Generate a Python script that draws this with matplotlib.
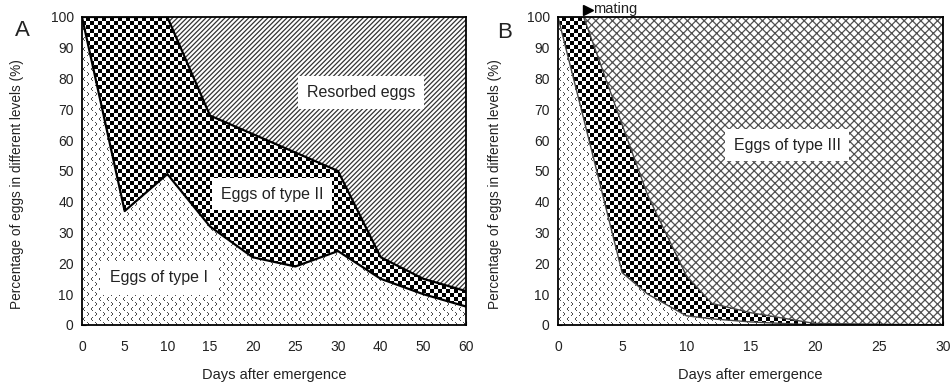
import numpy as np
import matplotlib
matplotlib.use("Agg")
import matplotlib.pyplot as plt
import matplotlib.transforms as mtransforms

plt.rcParams['font.family'] = ['Liberation Sans', 'DejaVu Sans']
plt.rcParams['hatch.linewidth'] = 0.9

# ---------------- data ----------------
days_A = [0, 5, 10, 15, 20, 25, 30, 40, 50, 60]
typeI_A = [100, 37, 49, 32, 22, 19, 24, 15, 10, 6]
typeI_II_A = [100, 100, 100, 68, 62, 56, 50, 22, 15, 11]

days_B = [0, 2, 5, 7, 10, 12, 15, 20, 30]
typeI_B = [100, 67, 17, 10, 3, 2, 1, 0, 0]
typeI_II_B = [100, 100, 65, 42, 16, 7, 4, 0.5, 0]

mating_day = 2

yticks = list(range(0, 101, 10))
xticks_B = [0, 5, 10, 15, 20, 25, 30]

TXT = '#222222'

fig = plt.figure(figsize=(9.51, 3.87), dpi=100)
fig.patch.set_facecolor('white')

axA = fig.add_axes([82/951, 1-325/387, 384/951, 308/387])
axB = fig.add_axes([558/951, 1-325/387, 385/951, 308/387])


def checker_tex(w, h, s=4):
    yy, xx = np.mgrid[0:h, 0:w]
    c = ((xx // s + yy // s) % 2).astype(float)
    rgb = np.ones((h, w, 3))
    rgb[c == 1] = 0.0
    return rgb


def chevron_tex(w, h):
    tile = np.ones((10, 8))
    for r, c in [(0, 2), (1, 1), (2, 1), (3, 2), (5, 5), (6, 6), (7, 6), (8, 5)]:
        tile[r, c] = 0.3
    t = np.tile(tile, (h // 10 + 1, w // 8 + 1))[:h, :w]
    return np.dstack([t, t, t])


def texture_fill(ax, x, y1, y2, tex, xlim, z):
    coll = ax.fill_between(x, y1, y2, facecolor='none', edgecolor='none', zorder=z)
    im = ax.imshow(tex, extent=(xlim[0], xlim[1], 0, 100), aspect='auto',
                   interpolation='nearest', zorder=z)
    im.set_clip_path(coll.get_paths()[0], transform=ax.transData)
    return im


def style_axes(ax, xlim):
    ax.set_xlim(*xlim)
    ax.set_ylim(0, 100)
    ax.set_yticks(yticks)
    ax.tick_params(direction='in', length=3, width=0.8, labelsize=10,
                   labelcolor=TXT, pad=6)
    ax.tick_params(axis='x', pad=11)
    for sp in ax.spines.values():
        sp.set_linewidth(1.3)
        sp.set_color('black')
        sp.set_zorder(10)
    ax.set_xlabel('Days after emergence', fontsize=10.5, color=TXT, labelpad=10)
    ax.set_ylabel('Percentage of eggs in different levels (%)', fontsize=9.8, color=TXT)


# ---------------- panel A ----------------
xA = np.arange(len(days_A))
xlimA = (0, len(days_A) - 1)
wA = int(round(axA.get_position().width * 951))
hA = int(round(axA.get_position().height * 387))

axA.fill_between(xA, typeI_II_A, 100, facecolor='white', edgecolor='#333333',
                 hatch='///////', linewidth=0, zorder=1)
texture_fill(axA, xA, typeI_A, typeI_II_A, checker_tex(wA, hA), xlimA, 2)
texture_fill(axA, xA, 0, typeI_A, chevron_tex(wA, hA), xlimA, 2)
axA.plot(xA, typeI_II_A, color='black', lw=1.6, zorder=3)
axA.plot(xA, typeI_A, color='black', lw=1.6, zorder=3)

style_axes(axA, xlimA)
axA.set_xticks(xA)
axA.set_xticklabels([str(d) for d in days_A])
axA.yaxis.set_label_coords(-0.15, 0.456)

box = dict(facecolor='white', edgecolor='none', boxstyle='square,pad=0.55')
axA.text(6.54, 75.5, 'Resorbed eggs', ha='center', va='center', fontsize=11.5,
         color=TXT, bbox=box, zorder=6)
axA.text(4.45, 42.5, 'Eggs of type II', ha='center', va='center', fontsize=11.5,
         color=TXT, bbox=box, zorder=6)
axA.text(1.8, 15.3, 'Eggs of type I', ha='center', va='center', fontsize=11.5,
         color=TXT, bbox=dict(facecolor='white', edgecolor='none',
                              boxstyle='square,pad=0.6'), zorder=6)

# ---------------- panel B ----------------
xlimB = (0, 30)
wB = int(round(axB.get_position().width * 951))
hB = int(round(axB.get_position().height * 387))

axB.fill_between(days_B, typeI_II_B, 100, facecolor='white', edgecolor='#505050',
                 hatch='xxxx', linewidth=0, zorder=1)
texture_fill(axB, days_B, typeI_B, typeI_II_B, checker_tex(wB, hB), xlimB, 2)
texture_fill(axB, days_B, 0, typeI_B, chevron_tex(wB, hB), xlimB, 2)
axB.plot(days_B, typeI_II_B, color='#444444', lw=1.0, zorder=3)
axB.plot(days_B, typeI_B, color='#444444', lw=1.0, zorder=3)

style_axes(axB, xlimB)
axB.set_xticks(xticks_B)
axB.yaxis.set_label_coords(-0.145, 0.456)

axB.text(17.85, 58.4, 'Eggs of type III', ha='center', va='center', fontsize=11.5,
         color=TXT, bbox=box, zorder=6)

mk, = axB.plot([mating_day], [100], marker='>', color='black', markersize=7,
               clip_on=False, zorder=12, linestyle='none')
mk.set_transform(axB.transData + mtransforms.ScaledTranslation(4/100, 7/100, fig.dpi_scale_trans))
axB.annotate('mating', xy=(mating_day, 100), xytext=(7, 6), textcoords='offset points',
             fontsize=10.5, color=TXT, ha='left', va='center', annotation_clip=False)

fig.text(22/951, 1-31/387, 'A', fontsize=16, color=TXT, ha='center', va='center')
fig.text(505/951, 1-32/387, 'B', fontsize=16, color=TXT, ha='center', va='center')

fig.savefig('out.png', dpi=100, facecolor='white')
